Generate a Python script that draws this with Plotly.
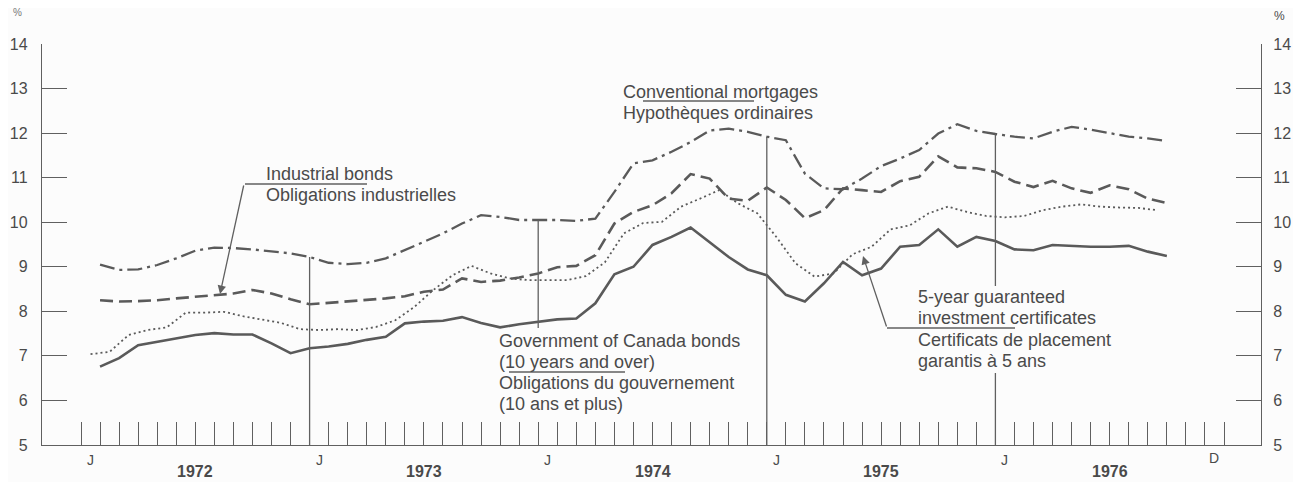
import plotly.graph_objects as go

# ---------------- data (monthly, Jan 1972 - Sep 1976) ----------------
months = [f"{y}-{m:02d}" for y in range(1972, 1977) for m in range(1, 13)][:57]

# Conventional mortgages / Hypothèques ordinaires
mortgage = [9.05, 8.93, 8.94, 9.04, 9.19, 9.36, 9.43, 9.42, 9.39, 9.35, 9.30, 9.22,
            9.09, 9.06, 9.09, 9.19, 9.37, 9.56, 9.75, 9.97, 10.16, 10.12, 10.05, 10.05,
            10.05, 10.03, 10.08, 10.68, 11.32, 11.39, 11.58, 11.80, 12.06, 12.10, 12.03, 11.92,
            11.84, 11.09, 10.76, 10.74, 10.98, 11.26, 11.43, 11.62, 11.99, 12.20, 12.05, 11.98,
            11.92, 11.88, 12.03, 12.14, 12.08, 12.00, 11.92, 11.88, 11.82]

# Industrial bonds / Obligations industrielles
industrial = [8.25, 8.22, 8.23, 8.25, 8.29, 8.33, 8.36, 8.40, 8.48, 8.40, 8.27, 8.16,
              8.19, 8.22, 8.25, 8.29, 8.34, 8.44, 8.49, 8.74, 8.66, 8.69, 8.76, 8.85,
              8.99, 9.02, 9.26, 9.97, 10.23, 10.38, 10.65, 11.08, 10.98, 10.53, 10.48, 10.78,
              10.50, 10.09, 10.27, 10.76, 10.72, 10.68, 10.92, 11.02, 11.48, 11.23, 11.21, 11.13,
              10.91, 10.79, 10.93, 10.76, 10.66, 10.83, 10.74, 10.53, 10.43]

# Government of Canada bonds (10 years and over)
govt = [6.76, 6.95, 7.24, 7.32, 7.39, 7.47, 7.51, 7.48, 7.48, 7.28, 7.06, 7.17,
        7.21, 7.27, 7.36, 7.43, 7.73, 7.77, 7.79, 7.87, 7.74, 7.64, 7.71, 7.77,
        7.82, 7.84, 8.18, 8.83, 9.00, 9.49, 9.67, 9.88, 9.56, 9.22, 8.94, 8.81,
        8.37, 8.22, 8.63, 9.11, 8.81, 8.96, 9.45, 9.49, 9.84, 9.45, 9.67, 9.58,
        9.39, 9.37, 9.49, 9.47, 9.45, 9.45, 9.47, 9.34, 9.24]

# 5-year guaranteed investment certificates
gic = [7.04, 7.09, 7.47, 7.58, 7.64, 7.97, 7.97, 7.99, 7.89, 7.82, 7.74, 7.60,
       7.58, 7.60, 7.58, 7.65, 7.80, 8.10, 8.48, 8.81, 9.02, 8.85, 8.74, 8.70,
       8.70, 8.70, 8.79, 9.10, 9.75, 9.98, 10.01, 10.35, 10.53, 10.72, 10.42, 10.20,
       9.67, 9.08, 8.78, 8.85, 9.28, 9.45, 9.84, 9.93, 10.20, 10.35, 10.23, 10.14,
       10.11, 10.14, 10.27, 10.35, 10.40, 10.35, 10.33, 10.32, 10.27]

years = ["1972", "1973", "1974", "1975", "1976"]
y_ticks = [5, 6, 7, 8, 9, 10, 11, 12, 13, 14]

# ---------------- layout helpers ----------------
OFF = 8                      # page body margin of the html page
W, H = 1301 - OFF, 482 - OFF
L_PX, R_PX, T_PX, B_PX = 42, 1261, 44, 445      # plot area in window pixels
X0_PX, PX_PER_MONTH = 81, 19.05


def bx(px):
    return (px - X0_PX) / PX_PER_MONTH


def vy(py):
    return 5 + (B_PX - py) / (B_PX - T_PX) * 9


def pxp(px):
    return (px - L_PX) / (R_PX - L_PX)


def pyp(py):
    return (B_PX - py) / (B_PX - T_PX)


x_end = [i + 1 for i in range(len(mortgage))]      # month-end positions
x_mid = [i + 0.5 for i in range(len(gic))]          # mid-month positions

LINE = "#5a5a5a"
TXT = "#4a4a4a"
FONT = "Liberation Sans, Arial, sans-serif"

fig = go.Figure()
fig.add_trace(go.Scatter(x=x_end, y=mortgage, mode="lines", name="Conventional mortgages",
                         line=dict(color=LINE, width=2.3, dash="15px,5px,3px,5px")))
fig.add_trace(go.Scatter(x=x_end, y=industrial, mode="lines", name="Industrial bonds",
                         line=dict(color=LINE, width=2.6, dash="13px,6px")))
fig.add_trace(go.Scatter(x=x_end, y=govt, mode="lines", name="Government of Canada bonds",
                         line=dict(color=LINE, width=2.6)))
fig.add_trace(go.Scatter(x=x_mid, y=gic, mode="lines", name="5-year GIC",
                         line=dict(color=LINE, width=1.8, dash="2px,3px")))
# right axis companion (invisible)
fig.add_trace(go.Scatter(x=[0], y=[5], yaxis="y2", mode="markers",
                         marker=dict(opacity=0), showlegend=False, hoverinfo="skip"))

shapes = []
thin = dict(color="#606060", width=1.3)
# January marker lines
shapes.append(dict(type="line", xref="x", yref="y", x0=12, x1=12, y0=mortgage[11], y1=5, line=thin))
shapes.append(dict(type="line", xref="x", yref="y", x0=24, x1=24, y0=mortgage[23], y1=vy(328), line=thin))
shapes.append(dict(type="line", xref="x", yref="y", x0=36, x1=36, y0=mortgage[35], y1=5, line=thin))
shapes.append(dict(type="line", xref="x", yref="y", x0=48, x1=48, y0=mortgage[47], y1=vy(286), line=thin))
shapes.append(dict(type="line", xref="x", yref="y", x0=48, x1=48, y0=vy(373), y1=5, line=thin))
# label underlines
shapes.append(dict(type="line", xref="x", yref="y", x0=bx(245), x1=bx(367), y0=vy(184), y1=vy(184), line=thin))
shapes.append(dict(type="line", xref="x", yref="y", x0=bx(643), x1=bx(754), y0=vy(101), y1=vy(101), line=thin))
shapes.append(dict(type="line", xref="x", yref="y", x0=bx(509), x1=bx(625), y0=vy(372), y1=vy(372), line=thin))
shapes.append(dict(type="line", xref="x", yref="y", x0=bx(887), x1=bx(1015), y0=vy(328), y1=vy(328), line=thin))

ann = []


def label(px, py, text, size=18, bold=False, anchor="left", color=TXT):
    ann.append(dict(x=pxp(px), y=pyp(py), xref="paper", yref="paper",
                    text=f"<b>{text}</b>" if bold else text,
                    showarrow=False, xanchor=anchor, yanchor="middle",
                    font=dict(family=FONT, size=size, color=color)))


label(264, 174, "Industrial bonds")
label(264, 195, "Obligations industrielles")
label(621, 92, "Conventional mortgages")
label(621, 113, "Hypothèques ordinaires")
label(497, 341, "Government of Canada bonds")
label(497, 362, "(10 years and over)")
label(497, 383, "Obligations du gouvernement")
label(497, 404, "(10 ans et plus)")
label(916, 297, "5-year guaranteed")
label(916, 318, "investment certificates")
label(916, 340, "Certificats de placement")
label(916, 361, "garantis à 5 ans")

# arrows
for (tx, ty, hx, hy) in [(244, 184, 220, 294), (887, 328, 863, 256)]:
    ann.append(dict(x=bx(hx), y=vy(hy), ax=bx(tx), ay=vy(ty), xref="x", yref="y",
                    axref="x", ayref="y", text="", showarrow=True, arrowhead=2,
                    arrowsize=1.3, arrowwidth=1.3, arrowcolor="#606060"))

# month / year labels below the axis
for i, yr in enumerate(years):
    label(X0_PX + (12 * i + 0.5) * PX_PER_MONTH, 460, "J", size=14, anchor="center")
    label(X0_PX + (12 * i + 6) * PX_PER_MONTH, 472, yr, size=16, bold=True, anchor="center")
label(X0_PX + 59.5 * PX_PER_MONTH, 458, "D", size=14, anchor="center")
# percent signs
label(17, 12, "%", size=10, anchor="center", color="#777")
label(1279, 16, "%", size=12, anchor="center")

axis_y = dict(range=[5, 14], tickvals=y_ticks, ticks="inside", ticklen=25, tickwidth=1.3,
              tickcolor="#606060", showline=True, linecolor="#606060", linewidth=1.3,
              showgrid=False, zeroline=False, automargin=False,
              tickfont=dict(family=FONT, size=16, color=TXT), fixedrange=True)

fig.update_layout(
    width=W, height=H,
    margin=dict(l=L_PX - OFF, r=W - (R_PX - OFF), t=T_PX - OFF, b=H - (B_PX - OFF),
                autoexpand=False),
    paper_bgcolor="#fcfcfc", plot_bgcolor="#fcfcfc",
    showlegend=False,
    xaxis=dict(range=[bx(L_PX), bx(R_PX)], tickvals=list(range(61)), ticks="inside",
               ticklen=23, tickwidth=1.3, tickcolor="#606060", showticklabels=False,
               showline=True, linecolor="#606060", linewidth=1.3, showgrid=False,
               zeroline=False, fixedrange=True, automargin=False),
    yaxis=dict(**axis_y, side="left", ticklabelstandoff=10),
    yaxis2=dict(**axis_y, side="right", overlaying="y", matches="y", ticklabelstandoff=8),
    shapes=shapes,
    annotations=ann,
)

fig.write_html("out.html")
